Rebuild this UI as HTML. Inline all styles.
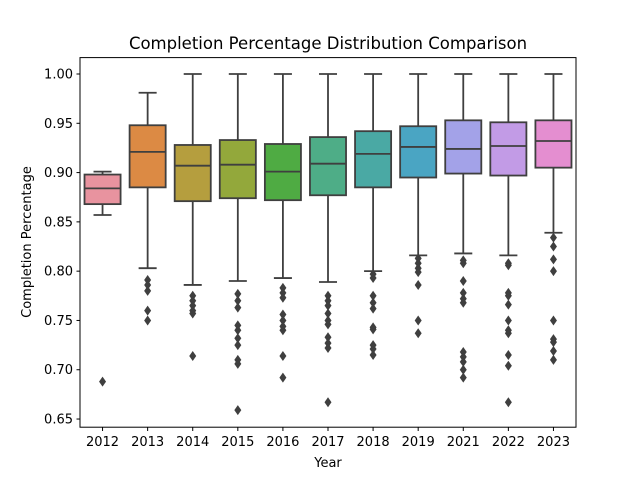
<!DOCTYPE html>
<html><head><meta charset="utf-8"><style>
html,body{margin:0;padding:0;background:#fff;}
svg text{font-family:"DejaVu Sans","Liberation Sans",sans-serif;fill:#000;}
</style></head><body>
<svg id="chart" width="640" height="480" viewBox="0 0 640 480" xmlns="http://www.w3.org/2000/svg">
<rect width="640" height="480" fill="#fff"/>
<text x="328" y="49" text-anchor="middle" font-size="16.5">Completion Percentage Distribution Comparison</text>
<g id="plot"></g>
<rect x="80" y="57.6" width="496" height="369.6" fill="none" stroke="#000" stroke-width="1"/>
<text x="328" y="467" text-anchor="middle" font-size="13">Year</text>
<text transform="translate(31,242) rotate(-90)" text-anchor="middle" font-size="13">Completion Percentage</text>
</svg>
<script>
const categories=["2012","2013","2014","2015","2016","2017","2018","2019","2021","2022","2023"];
const whiskerLow=[0.857,0.803,0.786,0.790,0.793,0.789,0.800,0.816,0.818,0.816,0.839];
const q1=[0.868,0.885,0.871,0.874,0.872,0.877,0.885,0.895,0.899,0.897,0.905];
const medians=[0.884,0.921,0.907,0.908,0.901,0.909,0.919,0.926,0.924,0.927,0.932];
const q3=[0.898,0.948,0.928,0.933,0.929,0.936,0.942,0.947,0.953,0.951,0.953];
const whiskerHigh=[0.901,0.981,1.0,1.0,1.0,1.0,1.0,1.0,1.0,1.0,1.0];
const outliers=[
[0.688],
[0.791,0.786,0.780,0.760,0.750],
[0.775,0.770,0.765,0.760,0.757,0.714],
[0.777,0.770,0.763,0.745,0.740,0.732,0.725,0.710,0.706,0.659],
[0.783,0.778,0.773,0.756,0.750,0.744,0.740,0.714,0.692],
[0.775,0.770,0.765,0.757,0.750,0.746,0.733,0.727,0.722,0.667],
[0.797,0.793,0.775,0.768,0.762,0.743,0.741,0.725,0.721,0.715],
[0.813,0.808,0.803,0.799,0.786,0.750,0.737],
[0.811,0.808,0.790,0.778,0.772,0.768,0.718,0.713,0.708,0.700,0.692],
[0.808,0.806,0.778,0.775,0.766,0.750,0.740,0.737,0.715,0.704,0.667],
[0.834,0.825,0.812,0.800,0.750,0.731,0.728,0.719,0.710]];
const yTicks=[0.65,0.70,0.75,0.80,0.85,0.90,0.95,1.00];
const colors=["#e8939f","#dc8a44","#b59e3e","#93a83b","#4fab43","#4ead87","#4aa9a4","#4aa5c3","#a3a2e8","#c29be6","#e48ed0"];
const NS="http://www.w3.org/2000/svg";
const g=document.getElementById('plot');
const X0=80,W=496;
const band=W/categories.length;
function xC(i){return X0+band*(i+0.5);}
function yS(v){return 74+(1.0-v)/0.05*49.29;}
function mk(tag,a){const e=document.createElementNS(NS,tag);for(const k in a)e.setAttribute(k,a[k]);g.appendChild(e);return e;}
const LC="#3f3f3f";
const LW=1.8;
yTicks.forEach(t=>{const y=yS(t);
const tk=mk('line',{x1:76.5,x2:80,y1:y,y2:y,stroke:'#000'});


const tx=mk('text',{x:73,y:y+4.5,'text-anchor':'end','font-size':'13'});tx.textContent=t.toFixed(2);

});
categories.forEach((c,i)=>{const x=xC(i),bw=band*0.8,cw=bw/2;
const tk=mk('line',{x1:x,x2:x,y1:427.2,y2:431,stroke:'#000'});


const tx=mk('text',{x:x,y:446,'text-anchor':'middle','font-size':'13'});tx.textContent=c;


const w1=mk('line',{x1:x,x2:x,y1:yS(q1[i]),y2:yS(whiskerLow[i]),stroke:LC,'stroke-width':LW});


const w2=mk('line',{x1:x,x2:x,y1:yS(q3[i]),y2:yS(whiskerHigh[i]),stroke:LC,'stroke-width':LW});


[whiskerLow[i],whiskerHigh[i]].forEach(v=>{const cp=mk('line',{x1:x-cw/2,x2:x+cw/2,y1:yS(v),y2:yS(v),stroke:LC,'stroke-width':LW});

});
const b=mk('rect',{x:x-bw/2,y:yS(q3[i]),width:bw,height:yS(q1[i])-yS(q3[i]),fill:colors[i],stroke:LC,'stroke-width':LW});


const m=mk('line',{x1:x-bw/2,x2:x+bw/2,y1:yS(medians[i]),y2:yS(medians[i]),stroke:LC,'stroke-width':LW});


outliers[i].forEach(v=>{const y=yS(v);
const p=mk('path',{d:`M${x} ${y-5}L${x+3.5} ${y}L${x} ${y+5}L${x-3.5} ${y}Z`,fill:LC});

});
});
</script>
</body></html>
